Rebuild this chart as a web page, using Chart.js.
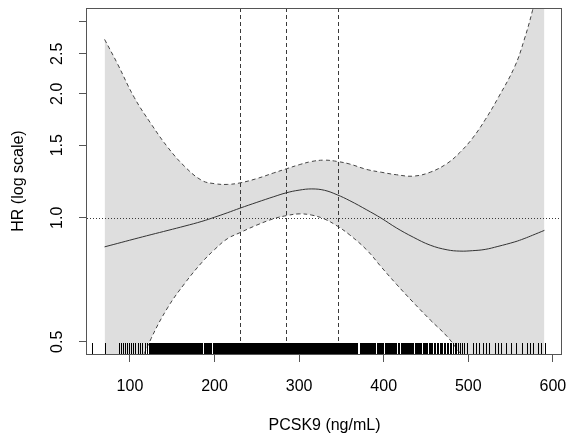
<!DOCTYPE html>
<html><head><meta charset="utf-8">
<script src="https://cdn.jsdelivr.net/npm/chart.js@4/dist/chart.umd.min.js"></script>
<style>html,body{margin:0;padding:0;background:#fff}canvas{display:block}</style>
</head><body>
<canvas id="c" width="566" height="436"></canvas>
<script>
// ---- data ----
const pcsk9 = [70, 85, 105, 125, 145, 165, 185, 200, 215, 230, 250, 270, 285, 300, 315, 330, 345, 360, 380, 397, 415, 435, 455, 475, 490, 505, 520, 535, 555, 566, 576, 590];
const hr = [0.850, 0.866, 0.888, 0.910, 0.932, 0.955, 0.980, 1.003, 1.028, 1.055, 1.090, 1.125, 1.150, 1.167, 1.175, 1.166, 1.137, 1.100, 1.045, 0.998, 0.945, 0.897, 0.858, 0.836, 0.830, 0.832, 0.838, 0.852, 0.874, 0.890, 0.907, 0.932];
const hrLower = [0.25, 0.307, 0.406, 0.509, 0.607, 0.694, 0.779, 0.837, 0.889, 0.920, 0.96, 0.995, 1.012, 1.022, 1.015, 0.993, 0.955, 0.908, 0.835, 0.76, 0.69, 0.623, 0.565, 0.515, 0.47, 0.43, 0.39, 0.35, 0.30, 0.28, 0.26, 0.23];
const hrUpper = [2.71, 2.37, 1.96, 1.69, 1.48, 1.33, 1.232, 1.21, 1.205, 1.215, 1.245, 1.285, 1.315, 1.345, 1.37, 1.38, 1.37, 1.35, 1.31, 1.29, 1.272, 1.262, 1.29, 1.355, 1.44, 1.56, 1.73, 1.95, 2.33, 2.70, 3.19, 4.2];
const cutpoints = [230, 285, 346];
const refHR = 1;
const xTicks = [100, 200, 300, 400, 500, 600];
const yTicks = [0.5, 1, 1.5, 2, 2.5, 3];
const yTickLabels = ['0.5', '1.0', '1.5', '2.0', '2.5', ''];
const xRange = [49.2, 610.8];
const yRange = [0.467, 3.23];
// observed PCSK9 values (rug)
const rugValues = [55, 70, 86.5, 89, 92, 94, 97, 99, 101.5, 104, 106, 109, 111.5, 114.5, 118, 120.5, 122.5,
 124,125,126,127,128,129,130,131,132,133,134,135,136,137,138,139,140,141,142,143,144,145,146,147,148,149,150,151,152,153,154,155,156,157,158,159,160,161,162,163,164,165,166,167,168,169,170,171,172,173,174,175,176,177,178,179,180,181,182,183,184,185,
 187,188,189,190,191,192,193,194,195,196,198,199,200,201,202,203,204,205,
 207,208,209,210,211,212,213,214,215,216,217,218,219,220,221,222,223,224,225,226,227,228,229,230,231,232,233,234,235,236,237,238,239,240,241,242,243,244,245,246,247,248,249,250,
 251,252,253,254,255,256,257,258,259,260,261,262,263,264,265,266,267,268,269,270,271,272,273,274,275,276,277,278,279,280,281,282,283,284,285,286,287,288,289,290,291,292,293,294,295,296,297,298,299,300,
 301,302,303,304,305,306,307,308,309,310,311,312,313,314,315,316,317,318,319,320,321,322,323,324,325,326,327,328,329,330,331,332,333,334,335,336,337,338,339,340,341,342,343,344,345,346,347,348,349,350,
 351,352,353,354,355,356,357,358,359,360,361,362,363,364,365,366,367,368,369,
 371.5,372.5,373.5,374.5,376,377,378,379,380,381.5,382.5,383.5,384.5,386,387,388,389,390,391.5,392.5,393.5,394.5,396,397,398,399,401,402,403,404,405,406.5,407.5,408.5,409.5,411,412,413,414,415,416.5,417.5,418.5,420,421,422,423,424.5,425.5,426.5,428,429,430,431.5,432.5,434,435,436.5,438,439,440.5,442,443,444.5,446,447.5,449,450,451.5,453,454.5,456,
 457.5,459,461,462.5,464,466,467.5,469,471,473,474.5,476,478,480,482,484,486,488,490,492.5,495,
 499,505,509,513,517,521,525,531,535,539,545,551,557,563,569,573,576,582,586,591];

const FONT = '"Liberation Sans", Arial, sans-serif';

const overlay = {
  id: 'overlay',
  afterDatasetsDraw(chart) {
    const {ctx, chartArea: a, scales: {x, y}} = chart;
    ctx.save();
    ctx.beginPath(); ctx.rect(a.left, a.top, a.right - a.left, a.bottom - a.top); ctx.clip();
    ctx.lineWidth = 1;
    ctx.strokeStyle = '#3a3a3a';
    ctx.setLineDash([4, 3]);
    cutpoints.forEach(v => {
      const px = Math.round(x.getPixelForValue(v)) + 0.5;
      ctx.beginPath(); ctx.moveTo(px, a.top); ctx.lineTo(px, a.bottom); ctx.stroke();
    });
    ctx.setLineDash([1, 2]);
    const py = Math.round(y.getPixelForValue(refHR)) + 0.5;
    ctx.beginPath(); ctx.moveTo(a.left, py); ctx.lineTo(a.right, py); ctx.stroke();
    ctx.setLineDash([]);
    ctx.strokeStyle = '#000';
    ctx.lineWidth = 1;
    rugValues.forEach(v => {
      const px = Math.round(x.getPixelForValue(v)) + 0.5;
      ctx.beginPath(); ctx.moveTo(px, a.bottom); ctx.lineTo(px, a.bottom - 11); ctx.stroke();
    });
    ctx.restore();
  },
  afterDraw(chart) {
    const {ctx, chartArea: a, scales: {y}} = chart;
    ctx.save();
    ctx.strokeStyle = '#555'; ctx.lineWidth = 1;
    ctx.strokeRect(a.left - 0.5, a.top + 0.5, a.right - a.left, a.bottom - a.top);
    ctx.font = '16px ' + FONT; ctx.fillStyle = '#000';
    ctx.textAlign = 'center'; ctx.textBaseline = 'middle';
    yTicks.forEach((v, i) => {
      if (!yTickLabels[i]) return;
      ctx.save();
      ctx.translate(a.left - 29.5, y.getPixelForValue(v));
      ctx.rotate(-Math.PI / 2);
      ctx.fillText(yTickLabels[i], 0, 0);
      ctx.restore();
    });
    ctx.restore();
  }
};

const pts = arr => pcsk9.map((v, i) => ({x: v, y: arr[i]}));
const gridOpts = {display: true, drawOnChartArea: false, drawTicks: true, tickLength: 8, color: '#555', lineWidth: 1};

new Chart(document.getElementById('c'), {
  type: 'line',
  data: {
    datasets: [
      {label: 'upper', data: pts(hrUpper), borderColor: '#444', borderWidth: 1, borderDash: [4, 3], backgroundColor: '#dedede', fill: '+1', pointRadius: 0, tension: 0.4, clip: 0, order: 2},
      {label: 'lower', data: pts(hrLower), borderColor: '#444', borderWidth: 1, borderDash: [4, 3], fill: false, pointRadius: 0, tension: 0.4, clip: 0, order: 1},
      {label: 'HR', data: pts(hr), borderColor: '#333', borderWidth: 1, fill: false, pointRadius: 0, tension: 0.4, clip: 0, order: 0}
    ]
  },
  options: {
    responsive: false, animation: false, devicePixelRatio: 1,
    layout: {padding: {left: 0, top: 8, right: 4, bottom: 0}},
    plugins: {legend: {display: false}, tooltip: {enabled: false}},
    scales: {
      x: {
        type: 'linear', position: 'bottom', min: xRange[0], max: xRange[1],
        afterBuildTicks: s => { s.ticks = xTicks.map(v => ({value: v})); },
        afterFit: s => { s.height = 82; s.paddingLeft = 0; s.paddingRight = 0; },
        ticks: {padding: 15, autoSkip: false, maxRotation: 0, color: '#000', font: {family: FONT, size: 16}, callback: v => String(v)},
        grid: gridOpts, border: {display: false},
        title: {display: true, text: 'PCSK9 (ng/mL)', color: '#000', font: {family: FONT, size: 16}, padding: {top: 0, bottom: 1}}
      },
      y: {
        type: 'logarithmic', position: 'left', min: yRange[0], max: yRange[1],
        afterBuildTicks: s => { s.ticks = yTicks.map(v => ({value: v})); },
        afterFit: s => { s.width = 87; s.paddingTop = 0; s.paddingBottom = 0; },
        ticks: {display: false},
        grid: gridOpts, border: {display: false},
        title: {display: true, text: 'HR (log scale)', color: '#000', font: {family: FONT, size: 16}, padding: {top: 9, bottom: 0}}
      }
    }
  },
  plugins: [overlay]
});
</script>
</body></html>
